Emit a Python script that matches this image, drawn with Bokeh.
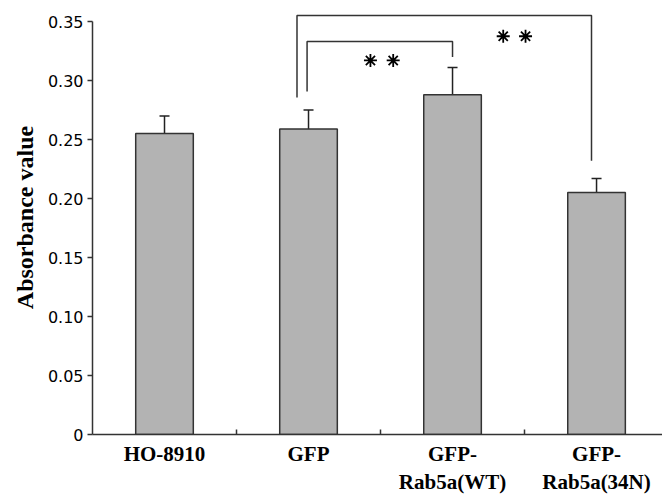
from bokeh.plotting import figure
from bokeh.models import ColumnDataSource, FixedTicker, Range1d, Whisker, TeeHead
from bokeh.embed import file_html
from bokeh.resources import INLINE

# ---- data ----
categories = ["HO-8910", "GFP", "GFP-\nRab5a(WT)", "GFP-\nRab5a(34N)"]
means = [0.255, 0.259, 0.288, 0.205]
errors = [0.015, 0.016, 0.023, 0.012]
y_ticks = [0, 0.05, 0.10, 0.15, 0.20, 0.25, 0.30, 0.35]
y_tick_labels = ["0", "0.05", "0.10", "0.15", "0.20", "0.25", "0.30", "0.35"]

# significance brackets (x in category units, y in absorbance)
bracket_xs = [[1.42, 1.42, 3.465, 3.465], [1.49, 1.49, 2.5, 2.5]]
bracket_ys = [[0.2856, 0.355, 0.355, 0.232], [0.2907, 0.333, 0.333, 0.320]]
star_x = [2.852, 3.007, 1.93, 2.088]
star_y = [0.3375, 0.3375, 0.317, 0.317]

centers = [i + 0.5 for i in range(len(categories))]
uppers = [m + e for m, e in zip(means, errors)]
src = ColumnDataSource(dict(x=centers, top=means, upper=uppers))

p = figure(frame_width=570, frame_height=434, output_backend="svg",
           toolbar_location=None,
           x_range=Range1d(0, 3.958), y_range=Range1d(0, 0.3678),
           min_border_left=92, min_border_bottom=61, min_border_top=0,
           min_border_right=0, background_fill_color="white",
           border_fill_color="white")
p.outline_line_color = None
p.xgrid.visible = False
p.ygrid.visible = False

p.vbar(x="x", top="top", width=0.4, bottom=0, source=src,
       fill_color="#b3b3b3", line_color="#333333", line_width=1.5)

w = Whisker(base="x", upper="upper", lower="top", source=src,
            line_color="#222222", line_width=1.5,
            upper_head=TeeHead(size=10, line_color="#222222", line_width=1.5),
            lower_head=None)
p.add_layout(w)

p.multi_line(xs=bracket_xs, ys=bracket_ys, line_color="#333333", line_width=1.5)
p.scatter(star_x, star_y, marker="asterisk", size=13, line_color="black",
          line_width=1.8)

# x axis
xa = p.xaxis[0]
xa.ticker = FixedTicker(ticks=centers, minor_ticks=[1, 2, 3])
xa.major_label_overrides = {c: lab for c, lab in zip(centers, categories)}
xa.major_tick_in = 0
xa.major_tick_out = 0
xa.minor_tick_in = 5
xa.minor_tick_out = 0
xa.axis_line_color = "#333333"
xa.axis_line_width = 1.5
xa.minor_tick_line_color = "#333333"
xa.minor_tick_line_width = 1.5
xa.major_label_text_font = "Liberation Serif"
xa.major_label_text_font_style = "bold"
xa.major_label_text_font_size = "21px"
xa.major_label_text_color = "black"
xa.major_label_text_line_height = 1.2
xa.major_label_standoff = 7

# y axis
ya = p.yaxis[0]
ya.ticker = FixedTicker(ticks=y_ticks, minor_ticks=[])
ya.major_label_overrides = {t: lab for t, lab in zip(y_ticks, y_tick_labels)}
ya.bounds = (0, 0.35)
ya.major_tick_in = 0
ya.major_tick_out = 5
ya.axis_line_color = "#333333"
ya.axis_line_width = 1.5
ya.major_tick_line_color = "#333333"
ya.major_tick_line_width = 1.5
ya.major_label_text_font = "DejaVu Sans"
ya.major_label_text_font_size = "16px"
ya.major_label_text_color = "black"
ya.major_label_standoff = 4
ya.axis_label = "Absorbance value"
ya.axis_label_text_font = "Liberation Serif"
ya.axis_label_text_font_style = "bold"
ya.axis_label_text_font_size = "24px"
ya.axis_label_text_color = "black"
ya.axis_label_standoff = 7

open("out.html", "w").write(file_html(p, INLINE))
